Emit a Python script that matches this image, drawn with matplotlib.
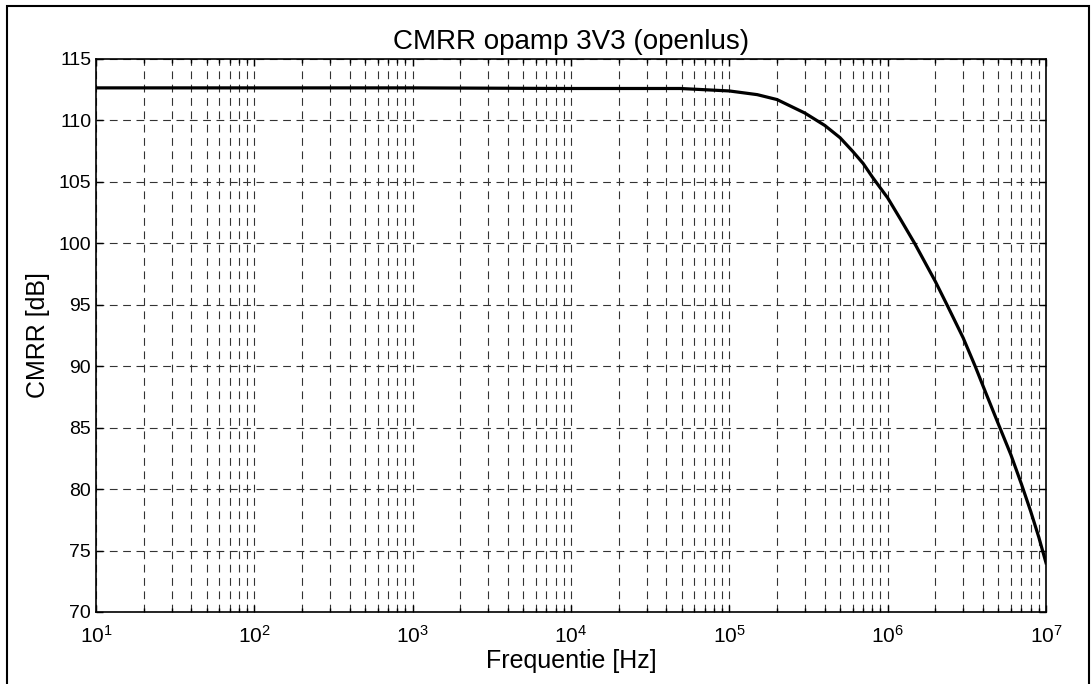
import numpy as np
import matplotlib
matplotlib.use("Agg")
from matplotlib import pyplot as plt
from matplotlib.ticker import FixedLocator, MultipleLocator, NullFormatter, LogFormatterSciNotation

plt.rcParams['font.family'] = ['Liberation Sans', 'DejaVu Sans']
plt.rcParams['mathtext.fontset'] = 'custom'
plt.rcParams['mathtext.rm'] = 'Liberation Sans'

# values
freq = [1e1, 1e2, 1e3, 1e4, 4.9e4, 1e5, 1.5e5, 2e5, 3e5, 4e5, 5e5, 6e5, 7e5, 8e5, 9e5, 1e6,
        1.2e6, 1.48e6, 2e6, 2.39e6, 3e6, 3.57e6, 4e6, 5e6, 6e6, 7e6, 8e6, 9e6, 1e7]
cmrr = [112.65, 112.65, 112.65, 112.6, 112.6, 112.4, 112.1, 111.7, 110.6, 109.6, 108.6, 107.5,
        106.5, 105.4, 104.5, 103.7, 102.0, 100.0, 96.9, 94.9, 92.3, 90.0, 88.4, 85.3, 82.8,
        80.4, 78.2, 76.1, 74.0]

title = "CMRR opamp 3V3 (openlus)"
xlabel = "Frequentie [Hz]"
ylabel = "CMRR [dB]"

decades = [1e1, 1e2, 1e3, 1e4, 1e5, 1e6, 1e7]
minor_x = [d * m for d in decades[:-1] for m in range(2, 10)]

fig = plt.figure(figsize=(10.92, 6.84), dpi=100)
ax = fig.add_axes([96 / 1092, 1 - 612 / 684, 950 / 1092, 553 / 684])

ax.semilogx(freq, cmrr, color='black', linewidth=2.3)

ax.set_xlim(1e1, 1e7)
ax.set_ylim(70, 115)
ax.yaxis.set_major_locator(MultipleLocator(5))
ax.xaxis.set_major_locator(FixedLocator(decades))
ax.xaxis.set_major_formatter(LogFormatterSciNotation())
ax.xaxis.set_minor_locator(FixedLocator(minor_x))
ax.xaxis.set_minor_formatter(NullFormatter())

grid_kw = dict(color='#333333', linestyle=(0, (7, 5)), linewidth=0.8)
ax.grid(True, which='major', axis='both', **grid_kw)
ax.grid(True, which='minor', axis='x', **grid_kw)

ax.tick_params(which='both', direction='in', top=True, right=True, labelsize=14, width=1)
ax.tick_params(which='major', length=5)
ax.tick_params(which='minor', length=3)
ax.tick_params(axis='x', pad=9, labelsize=15)
for s in ax.spines.values():
    s.set_linewidth(1.2)

ax.set_title(title, fontsize=20, pad=7)
ax.set_xlabel(xlabel, fontsize=18, labelpad=2)
ax.set_ylabel(ylabel, fontsize=18, labelpad=6)

# outer frame around the figure
frame = plt.Rectangle((7 / 1092, -0.05), 1082 / 1092, 1.05 - 6 / 684, transform=fig.transFigure,
                      fill=False, edgecolor='black', linewidth=1.5)
fig.patches.append(frame)

fig.savefig("out.png", dpi=100)
